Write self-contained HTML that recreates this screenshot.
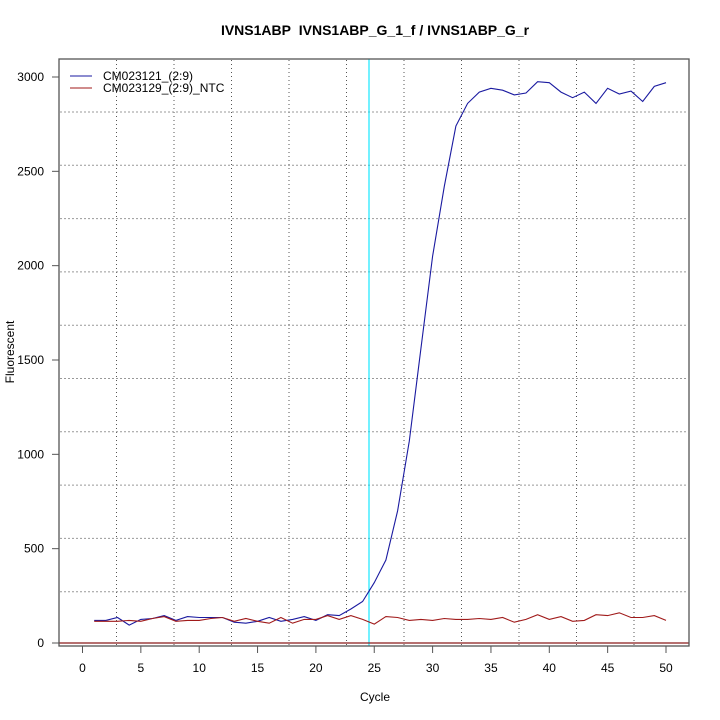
<!DOCTYPE html>
<html><head><style>body{margin:0;background:#fff}svg{display:block;font-family:"Liberation Sans",sans-serif}</style></head>
<body>
<svg id="s" width="720" height="720" xmlns="http://www.w3.org/2000/svg">
<rect width="720" height="720" fill="#fff"/>
<text x="375" y="35" font-size="14" font-weight="bold" text-anchor="middle">IVNS1ABP&#160; IVNS1ABP_G_1_f / IVNS1ABP_G_r</text>
<text x="375" y="701" font-size="12" text-anchor="middle">Cycle</text>
<text transform="translate(14,352) rotate(-90)" font-size="12" text-anchor="middle">Fluorescent</text>
<g id="grid"></g>
<line x1="369" y1="59" x2="369" y2="646" stroke="#00e5ff" stroke-width="1.1"/>
<line x1="59" y1="643" x2="689" y2="643" stroke="#8b1a1a" stroke-width="1.3"/>
<polyline id="b" fill="none" stroke="#1a1aa0" stroke-width="1.1"/>
<polyline id="r" fill="none" stroke="#a01a1a" stroke-width="1.1"/>
<rect x="59" y="59" width="630" height="587" fill="none" stroke="#555" stroke-width="1.3"/>
<g id="ax" font-size="12"></g>
<line x1="70" y1="76" x2="92" y2="76" stroke="#1a1aa0"/>
<line x1="70" y1="88" x2="92" y2="88" stroke="#a01a1a"/>
<text x="103" y="80" font-size="12">CM023121_(2:9)</text>
<text x="103" y="92" font-size="12">CM023129_(2:9)_NTC</text>
</svg>
<script>
var B=[120,120,135,95,125,130,145,120,140,135,135,135,110,105,115,135,115,125,140,120,150,145,180,220,320,440,700,1070,1560,2050,2420,2740,2860,2920,2940,2930,2905,2915,2975,2970,2920,2890,2920,2860,2940,2910,2925,2870,2950,2970];
var R=[115,115,115,120,115,130,140,115,120,120,130,135,115,130,115,105,135,105,125,125,145,125,145,125,100,140,135,120,125,120,130,125,125,130,125,135,110,125,150,125,140,115,120,150,145,160,135,135,145,120];
function X(c){return 82.5+c*11.67}function Y(v){return 643-v*0.18867}
function pts(a){return a.map((v,i)=>X(i+1).toFixed(1)+","+Y(v).toFixed(1)).join(" ")}
document.getElementById('b').setAttribute('points',pts(B));
document.getElementById('r').setAttribute('points',pts(R));
var g='';
[116.5,174,231.5,289,346.5,404,461.5,519,576.5,634].forEach(x=>g+=`<line x1="${x}" y1="60" x2="${x}" y2="645" stroke="#555" stroke-dasharray="1,3"/>`);
for(var i=0;i<10;i++){var y=112+i*53.3;g+=`<line x1="60" y1="${y}" x2="688" y2="${y}" stroke="#999" stroke-dasharray="2,2"/>`}
document.getElementById('grid').innerHTML=g;
var a='';
for(var c=0;c<=50;c+=5){a+=`<line x1="${X(c)}" y1="646" x2="${X(c)}" y2="653" stroke="#555"/><text x="${X(c)}" y="672" text-anchor="middle">${c}</text>`}
for(var v=0;v<=3000;v+=500){a+=`<line x1="52" y1="${Y(v)}" x2="59" y2="${Y(v)}" stroke="#555"/><text x="44" y="${Y(v)+4}" text-anchor="end">${v}</text>`}
document.getElementById('ax').innerHTML=a;
</script>
</body></html>
